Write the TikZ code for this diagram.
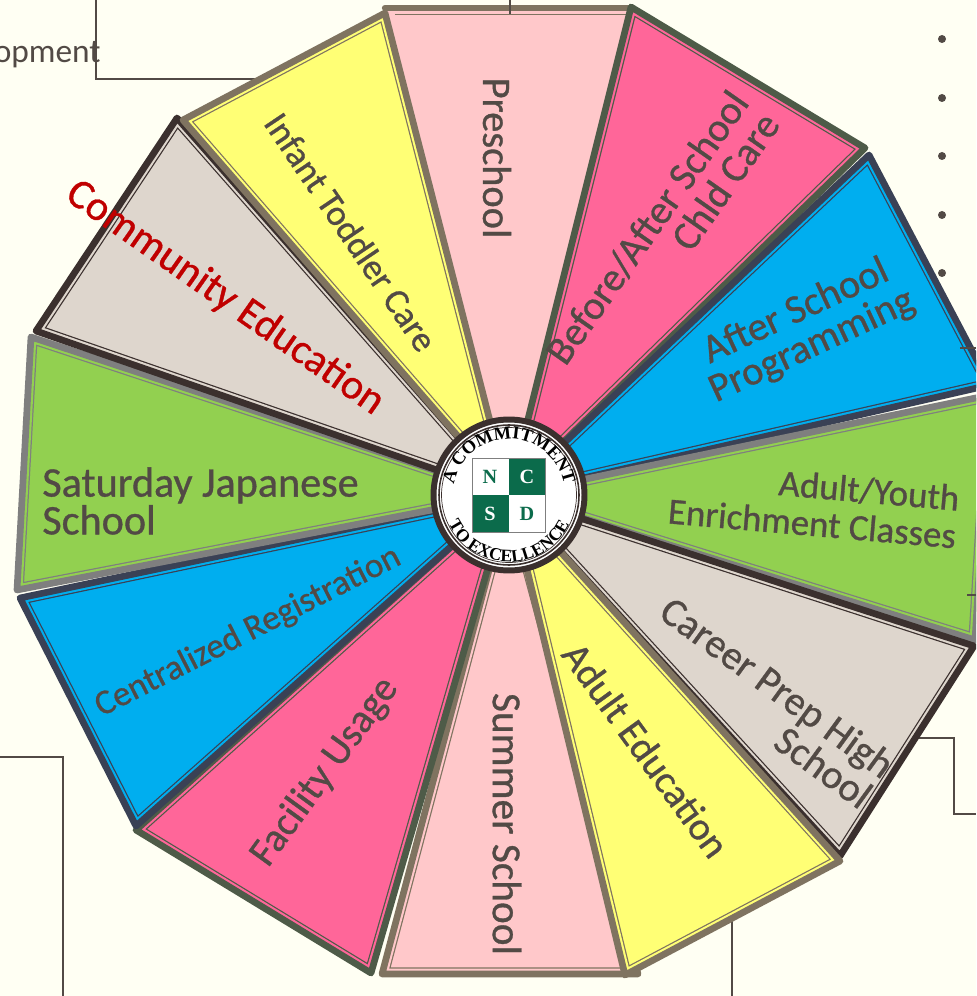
\documentclass[tikz,border=0pt]{standalone}
\usepackage{fontspec}
\setmainfont{Carlito}
\newfontfamily\wheelfont{Carlito}[RawFeature={embolden=0.8}]
\newfontfamily\sealfont{Liberation Serif}
\usetikzlibrary{decorations.text}

\definecolor{paper}{HTML}{FFFFF3}
\definecolor{ink}{HTML}{524A45}
\definecolor{rosefill}{HTML}{FFC8CA}
\definecolor{hotfill}{HTML}{FF6699}
\definecolor{bluefill}{HTML}{00AEEF}
\definecolor{greenfill}{HTML}{92D050}
\definecolor{taupefill}{HTML}{DED6CD}
\definecolor{yellowfill}{HTML}{FFFF75}
\definecolor{brownline}{HTML}{7F7360}
\definecolor{mossline}{HTML}{4E5B48}
\definecolor{slateline}{HTML}{3A4155}
\definecolor{greyline}{HTML}{7F7F7F}
\definecolor{darkline}{HTML}{3B302E}
\definecolor{sealgreen}{HTML}{0B6B4B}
\definecolor{redlabel}{HTML}{C00000}

\tikzset{
    wheellabel/.style={text=ink, inner sep=0pt, align=center, font=\wheelfont\fontsize{#1}{21.5}\selectfont},
    sideline/.style={draw=ink, line width=0.6pt},
    listdot/.style={fill=ink, circle, inner sep=0pt, minimum size=0.16cm},
    sealletter/.style={inner sep=0pt, font=\sealfont\bfseries\fontsize{11.5}{12}\selectfont},
}

% one slice of the wheel: outer corners, fill, border
\newcommand{\wheelslice}[4]{
    \fill[#3] (hub) -- #1 -- #2 -- cycle;
    \begin{scope}
        \clip (hub) -- #1 -- #2 -- cycle;
        \draw[#4, line width=7.6pt] (hub) -- #1 -- #2 -- cycle;
        \draw[#3, line width=6.2pt] (hub) -- #1 -- #2 -- cycle;
    \end{scope}
    \draw[#4, line width=3.8pt, line join=round] (hub) -- #1 -- #2 -- cycle;
}

\begin{document}
\begin{tikzpicture}[x=0.02cm, y=-0.02cm]
    \useasboundingbox (0,0) rectangle (976,996);
    \clip (0,0) rectangle (976,996);
    \fill[paper] (0,0) rectangle (976,996);
    \coordinate (hub) at (509,495);

    % lines behind the wheel
    \coordinate (topa) at (96,0);
    \coordinate (topb) at (96,79);
    \coordinate (topc) at (258,79);
    \draw[sideline] (topa) -- (topb) -- (topc);
    \coordinate (lefta) at (0,757);
    \coordinate (leftb) at (63,757);
    \coordinate (leftc) at (63,996);
    \draw[sideline] (lefta) -- (leftb) -- (leftc);
    \coordinate (righta) at (910,738);
    \coordinate (rightb) at (954,738);
    \coordinate (rightc) at (954,814);
    \coordinate (rightd) at (976,814);
    \draw[sideline] (righta) -- (rightb) -- (rightc) -- (rightd);
    \coordinate (lowa) at (732,915);
    \coordinate (lowb) at (732,996);
    \draw[sideline] (lowa) -- (lowb);

    % top slice, its sides lie under the next ones
    \fill[rosefill] (hub) -- (385,9) -- (630,9) -- cycle;
    \draw[brownline, line width=1pt] (395,14.5) -- (626,14.5);
    \draw[brownline, line width=3.6pt, line cap=round] (385,8) -- (628,8);
    \coordinate (capa) at (510,0);
    \coordinate (capb) at (510,14);
    \draw[sideline] (capa) -- (capb);

    % slices
    \wheelslice{(631,7)}{(865,148)}{hotfill}{mossline}
    \wheelslice{(869,155)}{(990,385)}{bluefill}{slateline}
    \wheelslice{(990,395)}{(975,640)}{greenfill}{greyline}
    \wheelslice{(974,646)}{(840,856)}{taupefill}{darkline}
    \wheelslice{(638,974)}{(382,974)}{rosefill}{brownline}
    \wheelslice{(840,861)}{(625,975)}{yellowfill}{brownline}
    \wheelslice{(371,973)}{(136,830)}{hotfill}{mossline}
    \wheelslice{(136,826)}{(20,598)}{bluefill}{slateline}
    \wheelslice{(17,590)}{(31,337)}{greenfill}{greyline}
    \wheelslice{(36,331)}{(177,118)}{taupefill}{darkline}
    \wheelslice{(183,120)}{(385,13)}{yellowfill}{brownline}

    % ticks over the right slices
    \coordinate (ticka) at (960,348);
    \coordinate (tickb) at (976,348);
    \draw[sideline] (ticka) -- (tickb);
    \coordinate (tickc) at (967,595);
    \coordinate (tickd) at (976,595);
    \draw[sideline] (tickc) -- (tickd);

    % labels
    \node[wheellabel=23, rotate=-90] (preschool) at (497,158) {Preschool};
    \node[wheellabel=23, rotate=55, align=right] (beforeafter) at (662,238) {Before/After School\\Chld Care};
    \node[wheellabel=23, rotate=25] (afterschool) at (804,329) {After School\\Programming};
    \node[wheellabel=21, rotate=-5, align=right, anchor=east] (adultyouth) at (958,517) {Adult/Youth\\Enrichment Classes};
    \node[wheellabel=23, rotate=-36, align=right, anchor=east] (careerprep) at (879,784) {Career Prep High\\School};
    \node[wheellabel=22.5, rotate=-54] (adulted) at (646,750) {Adult Education};
    \node[wheellabel=23.5, rotate=-90] (summer) at (507,824) {Summer School};
    \node[wheellabel=23, rotate=54] (facility) at (325,772) {Facility Usage};
    \node[wheellabel=20, rotate=27] (central) at (248,632) {Centralized Registration};
    \node[wheellabel=24, align=left, anchor=west] (saturday) at (42,501) {Saturday Japanese\\School};
    \node[wheellabel=24, rotate=-35, text=redlabel] (community) at (225,298) {Community Education};
    \node[wheellabel=20.5, rotate=-56] (infant) at (351,232) {Infant Toddler Care};

    % seal
    \fill[white] (hub) circle (1.54cm);
    \draw[darkline, line width=3.4pt] (hub) circle (1.51cm);
    \draw[darkline, line width=0.9pt] (hub) circle (1.40cm);
    \draw[darkline, line width=0.4pt] (hub) circle (1.35cm);
    \fill[sealgreen] (509,458) rectangle (545,495);
    \fill[sealgreen] (472,495) rectangle (509,532);
    \draw[greyline, line width=0.5pt] (472,458) rectangle (545,532);
    \node[sealletter, text=sealgreen] (sealn) at (490,477) {N};
    \node[sealletter, text=white] (sealc) at (527,477) {C};
    \node[sealletter, text=white] (seals) at (490,514) {S};
    \node[sealletter, text=sealgreen] (seald) at (527,514) {D};
    \path[decorate, decoration={text along path, text align=center,
        text={|\sealfont\bfseries\fontsize{10.5}{11}\selectfont|A COMMITMENT}}]
        (hub) ++(178:1.12cm) arc[start angle=178, end angle=2, radius=1.12cm];
    \path[decorate, decoration={text along path, text align=center,
        text={|\sealfont\bfseries\fontsize{10}{11}\selectfont|TO EXCELLENCE}}]
        (hub) ++(190:1.34cm) arc[start angle=190, end angle=350, radius=1.34cm];

    % left over text and list dots
    \node[text=ink, inner sep=0pt, anchor=east, font=\fontsize{19}{20}\selectfont] (cuttext) at (101,55) {opment};
    \node[listdot] (dota) at (942,39) {};
    \node[listdot] (dotb) at (942,98) {};
    \node[listdot] (dotc) at (942,156) {};
    \node[listdot] (dotd) at (942,215) {};
    \node[listdot] (dote) at (942,273) {};
\end{tikzpicture}
\end{document}
